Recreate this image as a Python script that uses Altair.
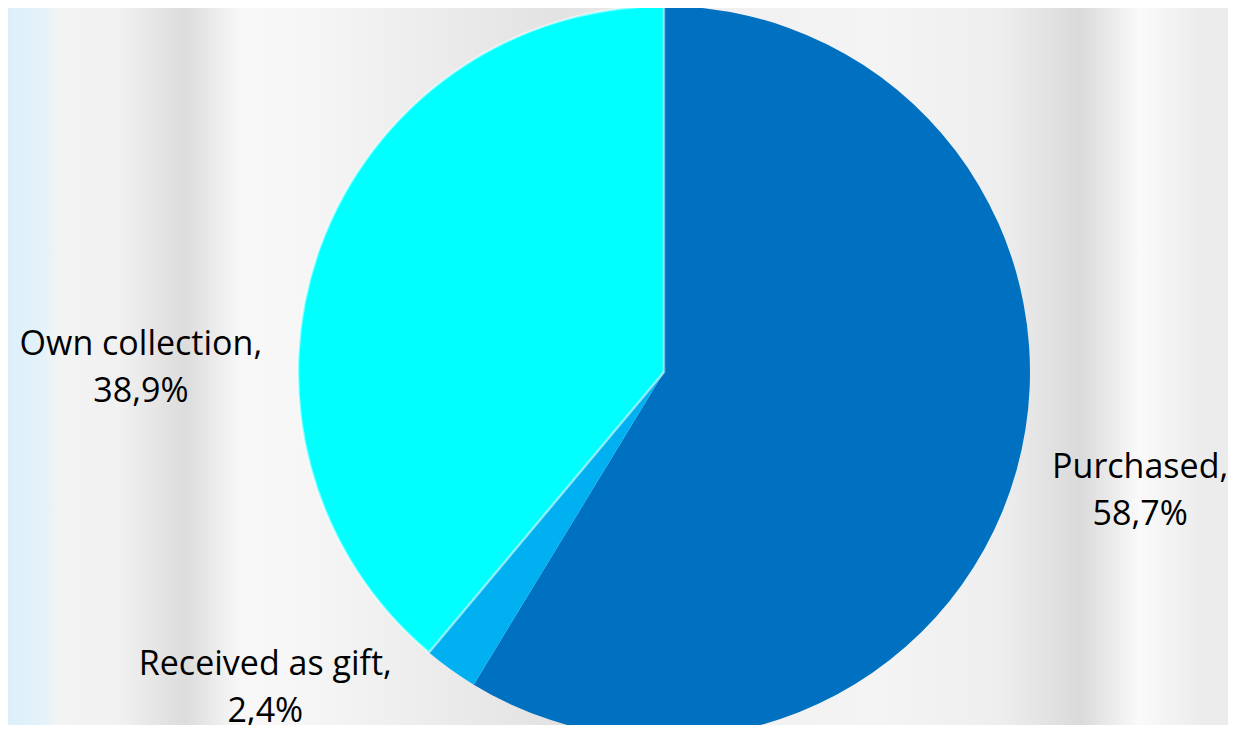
import altair as alt
import pandas as pd

# ---- data ----
categories = ["Purchased", "Received as gift", "Own collection"]
values = [58.7, 2.4, 38.9]
colors = ["#0070C0", "#00B0F0", "#00FFFF"]

labels = [f"{c},\n{str(v).replace('.', ',')}%" for c, v in zip(categories, values)]

df = pd.DataFrame({
    "category": categories,
    "value": values,
    "label": labels,
    "order": list(range(len(categories))),
})

W, H = 1220, 717
PAD = {"left": 92, "top": 11, "right": 0, "bottom": 0}
PLOT_W = W - PAD["left"] - PAD["right"]
PLOT_H = H - PAD["top"] - PAD["bottom"]

# background imitation: light grey blurred columns with a pale blue edge at the left
def off(px):
    return max(0.0, min(1.0, (px - 8) / W))

stops = [
    (0, "#dcefF9"), (45, "#e4f2f9"), (58, "#f3f3f3"), (120, "#f1f1f1"),
    (185, "#dcdcdc"), (240, "#f8f8f8"), (300, "#f6f6f6"), (420, "#ededed"),
    (560, "#e2e2e2"), (700, "#f0f0f0"), (880, "#f4f4f4"), (1000, "#eeeeee"),
    (1080, "#dadada"), (1140, "#fafafa"), (1200, "#ececec"), (1236, "#ebebeb"),
]
grad = alt.LinearGradient(
    gradient="linear", x1=0, x2=1, y1=0, y2=0,
    stops=[alt.GradientStop(offset=off(p), color=c) for p, c in stops],
)

bg = alt.Chart(alt.Data(values=[{"a": 1}])).mark_rect(color=grad).encode(
    x=alt.value(-PAD["left"]), x2=alt.value(PLOT_W + PAD["right"]),
    y=alt.value(-PAD["top"]), y2=alt.value(PLOT_H + 20),
)

base = alt.Chart(df).encode(
    theta=alt.Theta("value:Q", stack=True),
    order=alt.Order("order:Q"),
)

pie = base.mark_arc(outerRadius=366, stroke="white", strokeOpacity=0.5).encode(
    color=alt.Color("category:N",
                    scale=alt.Scale(domain=categories, range=colors),
                    legend=None),
    strokeWidth=alt.condition(alt.datum.category == "Own collection",
                              alt.value(2.5), alt.value(0)),
)

R = 480
offsets = {
    "Purchased": (14, -24),
    "Received as gift": (-119, -87),
    "Own collection": (-72, 147),
}

text_layers = []
for cat in categories:
    dx, dy = offsets[cat]
    t = base.mark_text(
        radius=R, dx=dx, dy=dy, align="center", baseline="alphabetic",
        font="Open Sans", fontSize=34, lineBreak="\n", lineHeight=47,
        color="#000000",
    ).encode(
        text=alt.condition(alt.datum.category == cat, "label:N", alt.value("")),
    )
    text_layers.append(t)

chart = alt.layer(bg, pie, *text_layers).properties(
    width=PLOT_W, height=PLOT_H, padding=PAD, background="#eeeeee",
    autosize=alt.AutoSizeParams(type="none"),
).configure_view(stroke=None)

chart.save("out.html", embed_options={"renderer": "svg", "actions": False})
